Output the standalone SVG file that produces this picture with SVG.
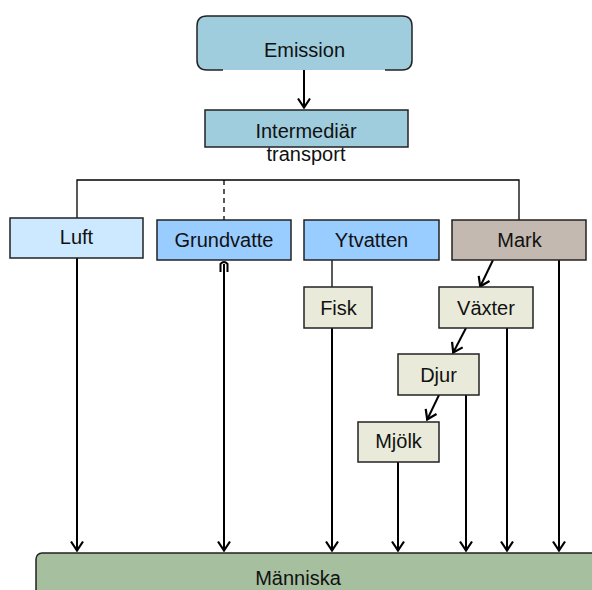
<svg xmlns="http://www.w3.org/2000/svg" width="592" height="590" viewBox="0 0 592 590">
<defs>
<marker id="ah" viewBox="0 0 12 14" refX="11" refY="7" markerWidth="12" markerHeight="14" markerUnits="userSpaceOnUse" orient="auto">
<path d="M1.5,1 L10.5,7 L1.5,13" fill="none" stroke="#000" stroke-width="2.2"/>
</marker>
<style>
text{font-family:"Liberation Sans",Arial,sans-serif;font-size:20px;fill:#111;text-anchor:middle}
.box{stroke:#222;stroke-width:1.5}
.thin{stroke:#000;stroke-width:1.3;fill:none}
.thick{stroke:#000;stroke-width:2;fill:none}
.arr{stroke:#000;stroke-width:2;fill:none;marker-end:url(#ah)}
</style>
</defs>
<rect width="592" height="590" fill="#fff"/>
<g id="connectors">
<path class="arr" d="M304,70 V108"/>
<path class="thin" d="M77,218 V180 H519 V220"/>
<path class="thin" d="M224,180 V220" stroke-dasharray="5,4"/>
<path class="thin" d="M332,260 V287"/>
<path class="arr" d="M493,260 L480,287"/>
<path class="arr" d="M466,328 L453,353"/>
<path class="arr" d="M439,395 L427,420"/>
<path class="arr" d="M77,258 V551"/>
<path class="arr" d="M224,264 V551"/>
<path class="thick" d="M220.5,272 L220.5,264 Q224,260 227.5,264 L227.5,272"/>
<path class="arr" d="M332,328 V551"/>
<path class="arr" d="M398,462 V551"/>
<path class="arr" d="M466,395 V551"/>
<path class="arr" d="M507,328 V551"/>
<path class="arr" d="M559,260 V551"/>
</g>
<g id="emission">
<rect x="197" y="16" width="215" height="54" rx="10" fill="#9fcddd"/>
<path d="M223,70 H207 Q197,70 197,60 V26 Q197,16 207,16 H402 Q412,16 412,26 V60 Q412,70 402,70 H385" fill="none" stroke="#222" stroke-width="1.5"/>
<text x="304.5" y="57">Emission</text>
</g>
<g id="intermediar">
<rect class="box" x="205" y="110" width="203" height="37" fill="#9fcddd"/>
<text x="306" y="138">Intermediär</text>
<text x="306" y="161">transport</text>
</g>
<g id="luft">
<rect class="box" x="10" y="218" width="133" height="40" fill="#cce9ff"/>
<text x="76.5" y="244">Luft</text>
</g>
<g id="grundvatten">
<rect class="box" x="157" y="220" width="134" height="40" fill="#99ccff"/>
<text x="224" y="247">Grundvatte</text>
</g>
<g id="ytvatten">
<rect class="box" x="304" y="220" width="135" height="40" fill="#99ccff"/>
<text x="371.5" y="247">Ytvatten</text>
</g>
<g id="mark">
<rect class="box" x="452" y="220" width="134" height="40" fill="#c3b9b0"/>
<text x="519.5" y="247">Mark</text>
</g>
<g id="fisk">
<rect class="box" x="304" y="287" width="68" height="41" fill="#e9ead9"/>
<text x="338.5" y="315">Fisk</text>
</g>
<g id="vaxter">
<rect class="box" x="439" y="287" width="94" height="41" fill="#e9ead9"/>
<text x="486" y="315">Växter</text>
</g>
<g id="djur">
<rect class="box" x="398" y="354" width="81" height="41" fill="#e9ead9"/>
<text x="438.5" y="382">Djur</text>
</g>
<g id="mjolk">
<rect class="box" x="358" y="422" width="81" height="40" fill="#e9ead9"/>
<text x="398.5" y="448">Mjölk</text>
</g>
<g id="manniska">
<rect class="box" x="36" y="553" width="580" height="60" rx="6" fill="#a6bf9f"/>
<text x="298" y="585">Människa</text>
</g>
</svg>
